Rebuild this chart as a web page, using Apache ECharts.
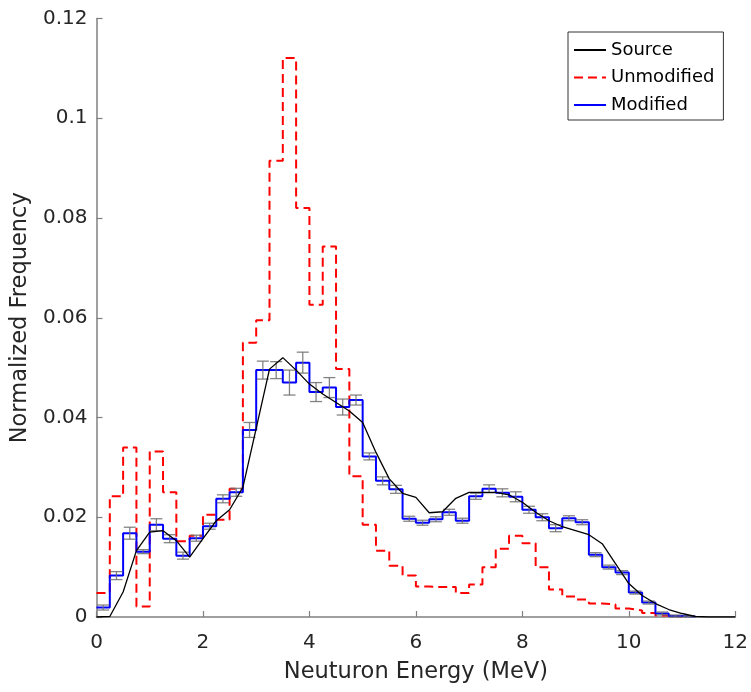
<!DOCTYPE html>
<html>
<head>
<meta charset="utf-8">
<script src="https://cdn.jsdelivr.net/npm/echarts@6/dist/echarts.min.js"></script>
<style>
html,body{margin:0;padding:0;background:#fff;}
#c{width:751px;height:692px;}
</style>
</head>
<body>
<div id="c"></div>
<script>
// Histogram bin edges (MeV)
const binEdges = [0,0.25,0.5,0.75,1,1.25,1.5,1.75,2,2.25,2.5,2.75,3,3.25,3.5,3.75,4,4.25,4.5,4.75,5,5.25,5.5,5.75,6,6.25,6.5,6.75,7,7.25,7.5,7.75,8,8.25,8.5,8.75,9,9.25,9.5,9.75,10,10.25,10.5,10.75,11,11.25,11.5,11.75,12];

// Modified (blue) histogram values per bin
const modified = [0.0019,0.0083,0.0168,0.0131,0.0185,0.0157,0.0123,0.0158,0.0182,0.0237,0.025,0.0375,
  0.0495,0.0495,0.047,0.051,0.0451,0.046,0.0421,0.0435,0.0322,0.0273,0.0256,0.0197,
  0.0189,0.0196,0.021,0.0193,0.0242,0.0257,0.0249,0.0241,0.0215,0.02,0.0178,0.0198,
  0.019,0.0125,0.01,0.0089,0.0049,0.0029,0.0007,0.0002,0.0001,0,0,0];

// Error bar half-heights for modified histogram
const modifiedErr = [0.0005,0.0008,0.0012,0.0004,0.0012,0.0008,0.0007,0.0006,0.0006,0.0008,0.0008,0.0015,
  0.0018,0.0017,0.0025,0.0021,0.0019,0.002,0.0016,0.001,0.0007,0.0008,0.0008,0.0005,
  0.0005,0.0005,0.0006,0.0005,0.0006,0.0008,0.0008,0.001,0.0007,0.0007,0.0007,0.0005,
  0.0005,0.0004,0.0004,0.0004,0.0003,0.0003,0.0003,0.0002,0.0001,0,0,0];

// Unmodified (red dashed) histogram values per bin
const unmodified = [0.0048,0.0242,0.034,0.0021,0.0332,0.025,0.0152,0.0163,0.0205,0.0195,0.0257,0.055,
  0.0595,0.0915,0.1121,0.082,0.0626,0.0743,0.0497,0.0282,0.0185,0.0133,0.0103,0.0083,
  0.0061,0.006,0.006,0.0048,0.0065,0.01,0.0137,0.0163,0.0148,0.01,0.0055,0.0041,
  0.0035,0.0027,0.0025,0.0017,0.0013,0.0008,0.0003,0.0001,0,0,0,0];

// Source spectrum (black line)
const sourceEnergy = [0,0.25,0.5,0.75,1,1.25,1.5,1.75,2,2.25,2.5,2.75,3,3.25,3.5,3.75,4,4.25,4.5,4.75,5,5.25,5.5,5.75,6,6.25,6.5,6.75,7,7.25,7.5,7.75,8,8.25,8.5,8.75,9,9.25,9.5,9.75,10,10.25,10.5,10.75,11,11.25,11.5,11.75,12];
const sourceValues = [0,0.0001,0.005,0.0133,0.017,0.0173,0.0153,0.012,0.0157,0.0193,0.0215,0.026,
  0.0378,0.0497,0.052,0.0495,0.0467,0.0447,0.043,0.0413,0.039,0.033,0.0277,0.0248,
  0.024,0.0209,0.0211,0.0238,0.025,0.025,0.025,0.0245,0.023,0.021,0.0193,0.0181,
  0.0173,0.0165,0.0147,0.0107,0.0067,0.0043,0.0027,0.0015,0.0007,0.0001,0,0,0];

const xTicks = [0,2,4,6,8,10,12];
const yTicks = [0,0.02,0.04,0.06,0.08,0.1,0.12];

function stairs(vals){
  let last = vals.length - 1;
  while (last > 0 && vals[last] <= 0) last--;
  const pts = [];
  for (let i = 0; i <= last; i++) pts.push([binEdges[i], vals[i]]);
  pts.push([binEdges[last+1], vals[last]]);
  pts.push([binEdges[last+1], 0]);
  return pts;
}

const errData = [];
for (let i = 0; i < modified.length; i++) {
  if (modifiedErr[i] > 0) errData.push([(binEdges[i]+binEdges[i+1])/2, modified[i], modifiedErr[i]]);
}

const FONT = 'DejaVu Sans';
const axisGray = '#808080';
const hiddenSym = {opacity:0};

const chart = echarts.init(document.getElementById('c'), null, {renderer:'canvas'});
chart.setOption({
  animation:false,
  backgroundColor:'#fff',
  grid:{left:96.5, right:14, top:18.5, bottom:75},
  legend:{
    data:[
      {name:'Source', itemStyle:hiddenSym},
      {name:'Unmodified', itemStyle:hiddenSym},
      {name:'Modified', itemStyle:hiddenSym}
    ],
    orient:'vertical',
    left:568, top:32,
    itemWidth:32, itemHeight:14, itemGap:9.5,
    padding:[9,9,6,5],
    borderColor:'#333', borderWidth:1,
    backgroundColor:'#fff',
    textStyle:{fontFamily:FONT, fontSize:18, color:'#000'}
  },
  xAxis:{
    type:'value', min:xTicks[0], max:xTicks[xTicks.length-1], interval:2,
    name:'Neuturon Energy (MeV)', nameLocation:'middle', nameGap:44,
    nameTextStyle:{fontFamily:FONT, fontSize:22.5, color:'#262626'},
    axisLine:{show:true, onZero:false, lineStyle:{color:axisGray, width:1.5}},
    axisTick:{show:true, inside:true, length:6, lineStyle:{color:axisGray, width:1.2}},
    axisLabel:{fontFamily:FONT, fontSize:20, color:'#262626', margin:16},
    splitLine:{show:false}
  },
  yAxis:{
    type:'value', min:yTicks[0], max:yTicks[yTicks.length-1], interval:0.02,
    name:'Normalized Frequency', nameLocation:'middle', nameGap:59,
    nameTextStyle:{fontFamily:FONT, fontSize:22.5, color:'#262626'},
    axisLine:{show:true, onZero:false, lineStyle:{color:axisGray, width:1.5}},
    axisTick:{show:true, inside:true, length:6, lineStyle:{color:axisGray, width:1.2}},
    axisLabel:{fontFamily:FONT, fontSize:20, color:'#262626', margin:9},
    splitLine:{show:false}
  },
  series:[
    {
      name:'Unmodified', type:'line', step:'end', data:stairs(unmodified),
      symbol:'none', z:2,
      lineStyle:{color:'#ff0000', width:2, type:[9,5]},
      itemStyle:{color:'#ff0000'}
    },
    {
      name:'Modified', type:'line', step:'end', data:stairs(modified),
      symbol:'none', z:3,
      lineStyle:{color:'#0000ff', width:2},
      itemStyle:{color:'#0000ff'}
    },
    {
      name:'err', type:'custom', data:errData, z:4,
      renderItem:function(params, api){
        const x = api.value(0), y = api.value(1), e = api.value(2);
        const top = api.coord([x, y+e]);
        const bot = api.coord([x, y-e]);
        const hw = 6;
        const st = {stroke:'rgba(110,110,110,0.85)', lineWidth:1.3};
        return {type:'group', children:[
          {type:'line', shape:{x1:top[0], y1:top[1], x2:bot[0], y2:bot[1]}, style:st},
          {type:'line', shape:{x1:top[0]-hw, y1:top[1], x2:top[0]+hw, y2:top[1]}, style:st},
          {type:'line', shape:{x1:bot[0]-hw, y1:bot[1], x2:bot[0]+hw, y2:bot[1]}, style:st}
        ]};
      }
    },
    {
      name:'Source', type:'line',
      data:sourceEnergy.map((x,i)=>[x, sourceValues[i]]),
      symbol:'none', z:5,
      lineStyle:{color:'#000000', width:1.3},
      itemStyle:{color:'#000000'}
    }
  ]
});
</script>
</body>
</html>
